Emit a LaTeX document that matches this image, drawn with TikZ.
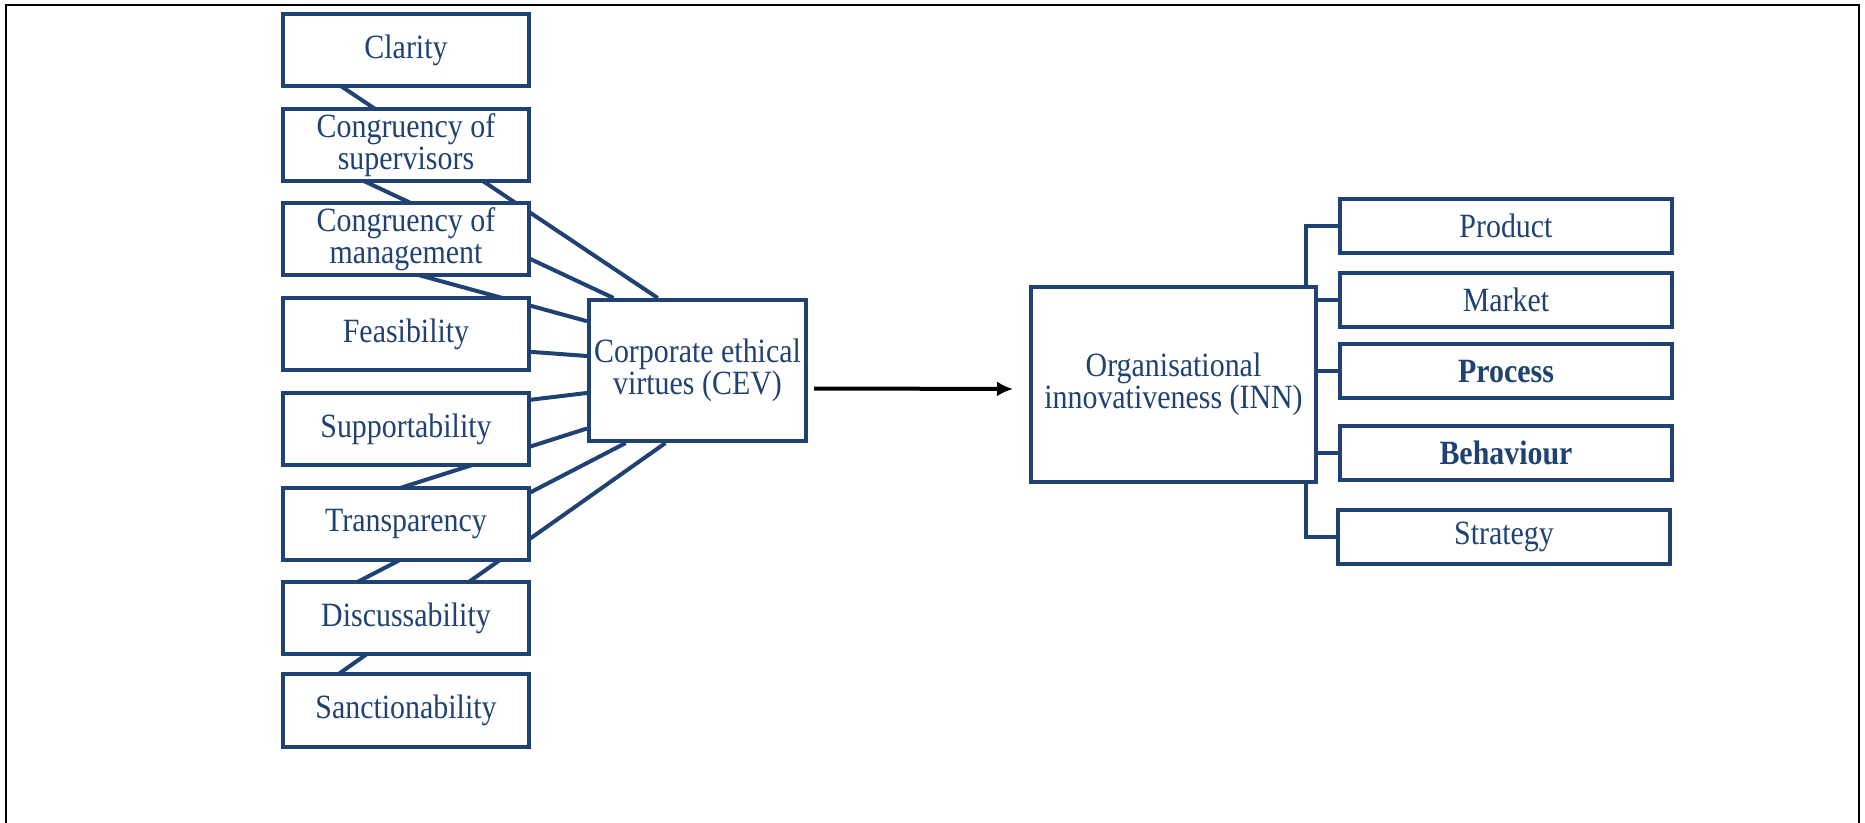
\documentclass[tikz,border=0pt]{standalone}
\usepackage{fontspec}
\setmainfont[FakeStretch=0.88]{Liberation Serif}
\usetikzlibrary{calc,backgrounds,arrows.meta}
\definecolor{navy}{RGB}{31,66,114}
\tikzset{
  box/.style={draw=navy, fill=white, line width=2pt, inner sep=0pt, align=center,
    text=navy, font=\fontsize{17}{16}\selectfont},
  virtue/.style={box, minimum width=123pt, minimum height=36pt},
  facet/.style={box, minimum width=166pt, minimum height=27pt},
  link/.style={draw=navy, line width=2pt},
}
\begin{document}
\begin{tikzpicture}[x=0.5pt,y=-0.5pt]
            \useasboundingbox (0,0) rectangle (1865,823);
            \draw[line width=1pt] (6,830)--(6,5)--(1859,5)--(1859,830);

            % virtues column
            \node[virtue] (clar) at (406,50) {Clarity};
            \node[virtue] (supv) at (406,145) {Congruency of\\supervisors};
            \node[virtue] (mgmt) at (406,239) {Congruency of\\management};
            \node[virtue] (feas) at (406,334) {Feasibility};
            \node[virtue] (supp) at (406,429) {Supportability};
            \node[virtue] (trans) at (406,524) {Transparency};
            \node[virtue] (disc) at (406,618.5) {Discussability};
            \node[virtue] (sanc) at (406,710.5) {Sanctionability};

            \node[box, minimum width=108.5pt, minimum height=70.5pt] (cev) at (697.5,370.5) {Corporate ethical\\virtues (CEV)};
            \node[box, minimum width=142.5pt, minimum height=97.5pt] (inn) at (1173.5,384.5) {Organisational\\innovativeness (INN)};

            % innovation types
            \node[facet] (prod) at (1506,226) {Product};
            \node[facet] (mrkt) at (1506,300) {Market};
            \node[facet] (proc) at (1506,371.5) {\bfseries Process};
            \node[facet] (behav) at (1506,453) {\bfseries Behaviour};
            \node[facet] (strat) at (1504,537) {Strategy};
            \coordinate (bus) at (1306,0);

            \begin{scope}[on background layer]
            \draw[link] ([xshift=3pt]clar.west)--($(cev.north west)!.32!(cev.north east)$);
            \draw[link] ([xshift=3pt]supv.west)--($(cev.north west)!.12!(cev.north east)$);
            \draw[link] ([xshift=3pt]mgmt.west)--($(cev.north west)!.16!(cev.south west)$);
            \draw[link] ([xshift=3pt]feas.west)--($(cev.north west)!.40!(cev.south west)$);
            \draw[link] ([xshift=3pt]supp.west)--($(cev.north west)!.655!(cev.south west)$);
            \draw[link] ([xshift=3pt]trans.west)--($(cev.north west)!.90!(cev.south west)$);
            \draw[link] ([xshift=3pt]disc.west)--($(cev.south west)!.175!(cev.south east)$);
            \draw[link] ([xshift=3pt]sanc.west)--($(cev.south west)!.355!(cev.south east)$);

            \draw[link] (prod.west) -| (bus |- inn.north);
            \draw[link] (strat.west) -| (bus |- inn.south);
            \draw[link] (mrkt.west)--(mrkt.west -| inn.east);
            \draw[link] (proc.west)--(proc.west -| inn.east);
            \draw[link] (behav.west)--(behav.west -| inn.east);
            \end{scope}

            \draw[line width=2pt,-{Latex[length=8pt,width=7.5pt]},shorten <=3pt,shorten >=8pt] ([yshift=-9pt]cev.east)--([yshift=-2.25pt]inn.west);
\end{tikzpicture}
\end{document}
